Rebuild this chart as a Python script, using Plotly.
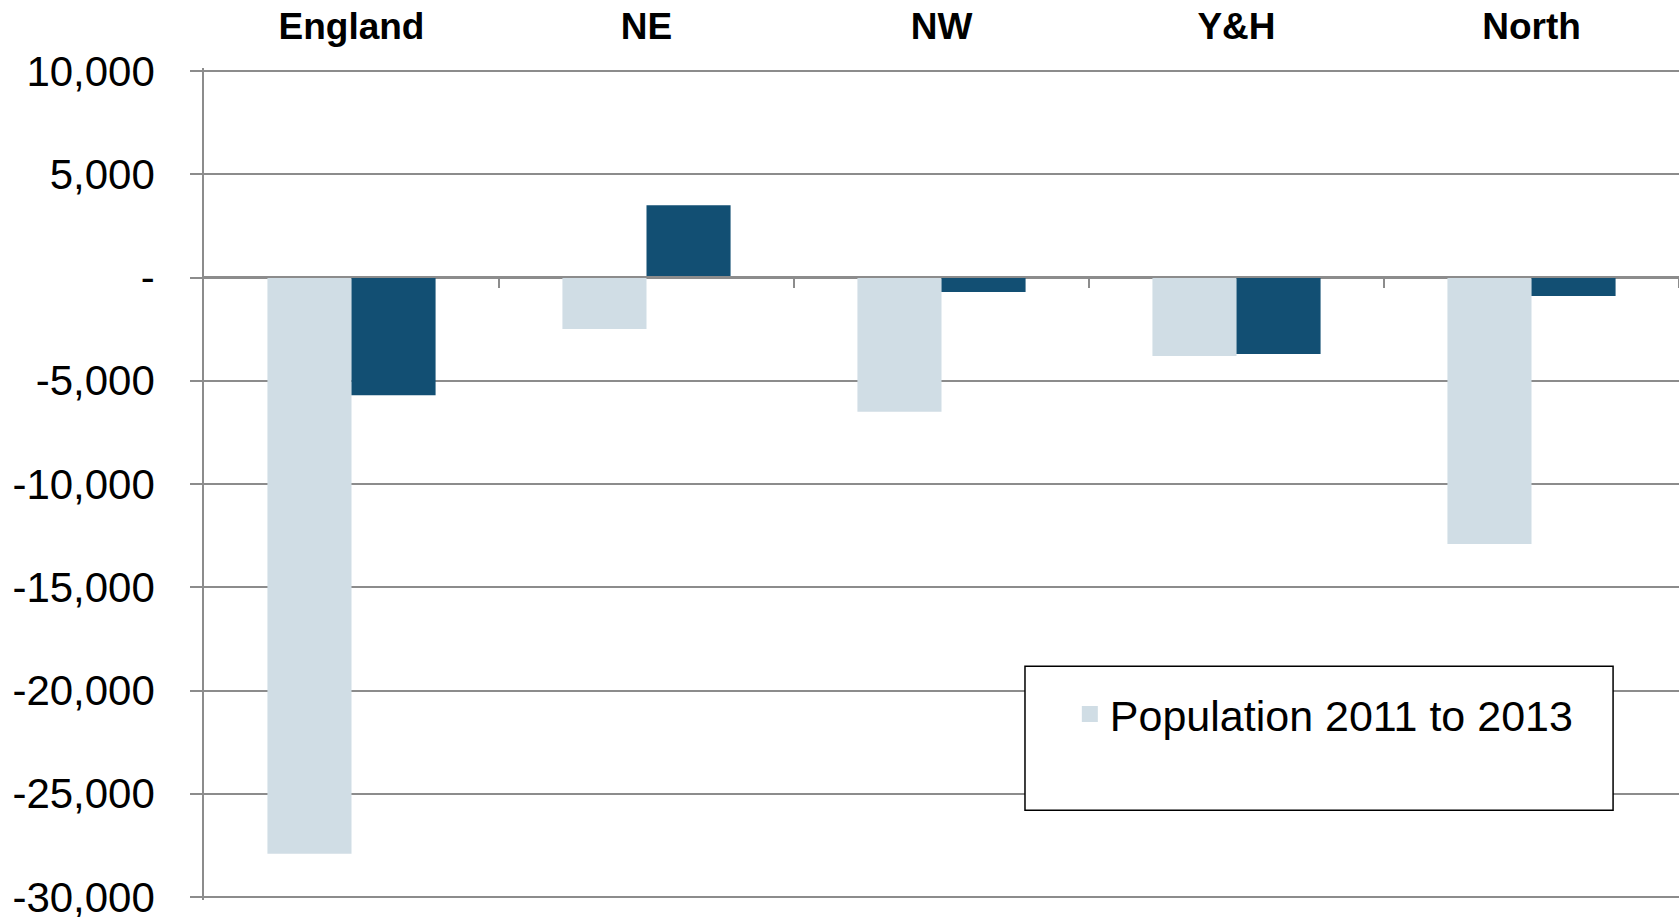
import plotly.graph_objects as go

categories = ["England", "NE", "NW", "Y&H", "North"]
population_2011_2013 = [-27900, -2500, -6500, -3800, -12900]
second_series = [-5700, 3500, -700, -3700, -900]

tick_vals = [-30000, -25000, -20000, -15000, -10000, -5000, 0, 5000, 10000]
tick_text = ["-30,000", "-25,000", "-20,000", "-15,000", "-10,000", "-5,000", "-", "5,000", "10,000"]

LIGHT = "#D0DDE5"
DARK = "#124F73"
GRID = "#8C8C8C"

Y_MIN, Y_MAX = -30145, 10145

fig = go.Figure()
fig.add_trace(go.Bar(x=categories, y=population_2011_2013, name="Population 2011 to 2013",
                     showlegend=False, marker=dict(color=LIGHT, line=dict(width=0))))
fig.add_trace(go.Bar(x=categories, y=second_series, name="Series 2", showlegend=False,
                     marker=dict(color=DARK, line=dict(width=0))))
# legend proxy for the light series (larger square swatch)
fig.add_trace(go.Scatter(x=[None], y=[None], mode="markers", name="Population 2011 to 2013",
                         marker=dict(symbol="square", size=22, color=LIGHT), hoverinfo="skip"))
# invisible helper trace on the secondary x axis, used only to draw the category-boundary ticks
fig.add_trace(go.Scatter(x=[None], y=[None], xaxis="x2", showlegend=False, hoverinfo="skip"))

zero_pos = (0 - Y_MIN) / (Y_MAX - Y_MIN)

fig.update_layout(
    width=1679, height=917,
    margin=dict(l=204, r=0, t=68, b=17),
    paper_bgcolor="white", plot_bgcolor="white",
    barmode="group", bargap=0.43, bargroupgap=0,
    font=dict(family="Liberation Sans, Arial, sans-serif", color="black"),
    xaxis=dict(side="top", showgrid=False, showline=False, zeroline=False, ticks="",
               tickfont=dict(size=37, family="Liberation Sans, Arial, sans-serif", weight="bold"),
               ticklabelstandoff=21, range=[-0.5, 4.5], automargin=False),
    xaxis2=dict(overlaying="x", anchor="free", position=zero_pos, side="bottom", range=[-0.5, 4.5],
                tickvals=[0.5, 1.5, 2.5, 3.5, 4.5], showticklabels=False, ticks="outside",
                ticklen=10, tickwidth=1.5, tickcolor=GRID, showline=True, linecolor=GRID,
                linewidth=1.5, showgrid=False, zeroline=False, automargin=False),
    yaxis=dict(range=[Y_MIN, Y_MAX], tickvals=tick_vals, ticktext=tick_text,
               tickfont=dict(size=42), showgrid=True, gridcolor=GRID, gridwidth=1.5,
               zeroline=False, showline=True, linecolor=GRID, linewidth=1.5,
               ticks="outside", ticklen=12, tickwidth=1.5, tickcolor=GRID,
               ticklabelstandoff=27, ticklabeloverflow="allow", automargin=False),
    legend=dict(x=0.587, y=0.2236, xanchor="left", yanchor="middle",
                bgcolor="rgba(0,0,0,0)", borderwidth=0, font=dict(size=43)),
    shapes=[dict(type="rect", xref="paper", yref="paper", x0=0.5566, x1=0.9553,
                 y0=0.108, y1=0.281, line=dict(color="black", width=1.5),
                 fillcolor="white", layer="above")],
    showlegend=True,
)
fig.write_html(
    "out.html",
    config={"displayModeBar": False},
    post_script="document.body.style.margin='0';document.documentElement.style.overflow='hidden';document.body.style.overflow='hidden';",
)
